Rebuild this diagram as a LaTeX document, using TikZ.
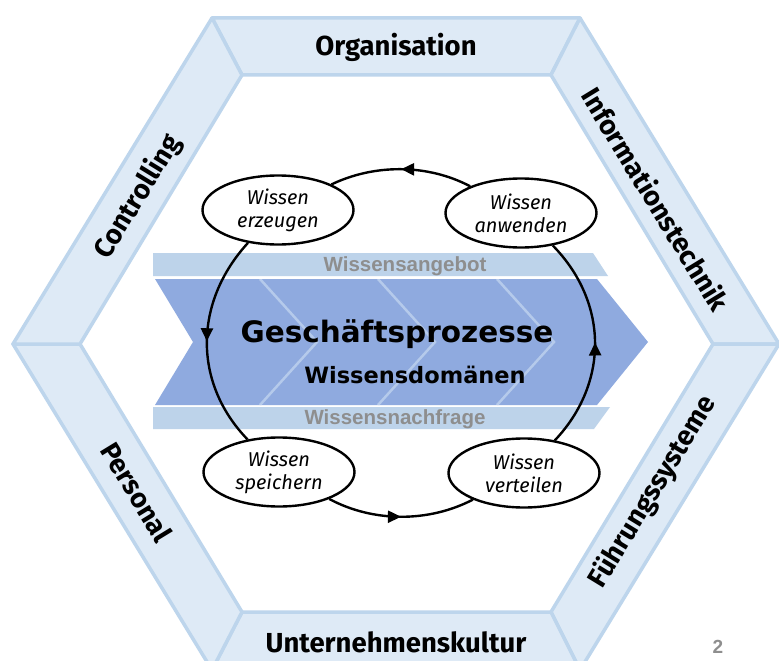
\documentclass[tikz,border=0pt]{standalone}
\usepackage{fontspec}
\setmainfont{Fira Sans}
\newfontfamily\arialfont{Liberation Sans}
\newfontfamily\heavyfont{DejaVu Sans}
\usetikzlibrary{shapes.geometric,decorations.markings,arrows.meta}
\definecolor{hexfill}{HTML}{DEEAF6}
\definecolor{hexline}{HTML}{BDD5EC}
\definecolor{bandlight}{HTML}{BDD3EA}
\definecolor{chevfill}{HTML}{8FAADF}
\definecolor{chevline}{HTML}{B5CAEB}
\definecolor{graytext}{HTML}{8E8E8E}
\begin{document}
\begin{tikzpicture}[x=1pt,y=-1pt,
  seg/.style={fill=hexfill,draw=hexline,line width=3.5pt,line join=round},
  seglabel/.style={font=\fontsize{27.5}{32}\selectfont\bfseries,inner sep=0pt},
  proc/.style={ellipse,draw,fill=white,line width=2.4pt,minimum width=151pt,minimum height=69pt,inner sep=0pt,align=center,font=\fontsize{20}{23}\selectfont\itshape},
  cyc/.style={line width=2.4pt,decoration={markings,mark=at position 0.5 with {\arrow{Triangle[length=13pt,width=12pt]}}},postaction={decorate}},
  bandtext/.style={text=graytext,font=\arialfont\bfseries\fontsize{20.5}{24}\selectfont,inner sep=0pt,anchor=base},
  bigtext/.style={font=\heavyfont\bfseries,inner sep=0pt,anchor=base}
]
\fill[white] (0,0) rectangle (779,661);
\useasboundingbox (0,0) rectangle (779,661);
% hexagon
\coordinate (oTL) at (212,18);  \coordinate (oTR) at (580,18);
\coordinate (oR) at (779,344);  \coordinate (oBR) at (580,670);
\coordinate (oBL) at (212,670); \coordinate (oL) at (13,344);
\coordinate (iTL) at (242,75);  \coordinate (iTR) at (551,75);
\coordinate (iR) at (713,344);  \coordinate (iBR) at (551,612);
\coordinate (iBL) at (242,612); \coordinate (iL) at (80,344);
\draw[seg] (oTL) -- (oTR) -- (iTR) -- (iTL) -- cycle;
\draw[seg] (oTR) -- (oR) -- (iR) -- (iTR) -- cycle;
\draw[seg] (oR) -- (oBR) -- (iBR) -- (iR) -- cycle;
\draw[seg] (oBR) -- (oBL) -- (iBL) -- (iBR) -- cycle;
\draw[seg] (oBL) -- (oL) -- (iL) -- (iBL) -- cycle;
\draw[seg] (oL) -- (oTL) -- (iTL) -- (iL) -- cycle;
\node[seglabel,anchor=base] (org) at (396,56) {Organisation};
\node[seglabel,anchor=base] (kultur) at (396,652) {Unternehmenskultur};
\node[seglabel,rotate=58.6] (contr) at (138,197) {Controlling};
\node[seglabel,rotate=-58.6] (it) at (656,199) {Informationstechnik};
\node[seglabel,rotate=-58.6] (pers) at (137,492) {Personal};
\node[seglabel,rotate=58.6] (fuehr) at (653,492) {Führungssysteme};
% central bands
\fill[bandlight] (153,253) -- (593,253) -- (608,276) -- (153,276) -- cycle;
\fill[chevfill] (155,279) -- (597,279) -- (648,342) -- (597,405) -- (155,405) -- (193,342) -- cycle;
\begin{scope}
\clip (155,279) -- (597,279) -- (648,342) -- (597,405) -- (155,405) -- (193,342) -- cycle;
\foreach \dx in {0,118,237} {
  \draw[chevline,line width=2.5pt] (260+\dx,279) -- (317+\dx,342) -- (260+\dx,405);
}
\end{scope}
\fill[bandlight] (153,407) -- (610,407) -- (594,429) -- (153,429) -- cycle;
\node[bandtext] (angebot) at (405,271) {Wissensangebot};
\node[bandtext] (nachfrage) at (395,424) {Wissensnachfrage};
\node[bigtext,font=\heavyfont\bfseries\fontsize{29.5}{34}\selectfont] (gp) at (397,342) {Geschäftsprozesse};
\node[bigtext,font=\heavyfont\bfseries\fontsize{22.5}{26}\selectfont] (wd) at (415,383) {Wissensdomänen};
% cycle
\node[proc] (erzeugen) at (278,210) {Wissen\\erzeugen};
\node[proc] (anwenden) at (521,213) {Wissen\\anwenden};
\node[proc] (speichern) at (279,472) {Wissen\\speichern};
\node[proc] (verteilen) at (524,473) {Wissen\\verteilen};
\draw[cyc] (anwenden) .. controls (427.4,163.8) and (374.6,163.8) .. (erzeugen);
\draw[cyc] (erzeugen) .. controls (193.2,302.8) and (193.2,383.2) .. (speichern);
\draw[cyc] (speichern) .. controls (373.3,522.6) and (428.7,522.6) .. (verteilen);
\draw[cyc] (verteilen) .. controls (608.8,383.2) and (608.8,302.8) .. (anwenden);
\node[text=graytext,font=\arialfont\bfseries\fontsize{19}{22}\selectfont,inner sep=0pt] (pagenum) at (718,647) {2};
\end{tikzpicture}
\end{document}
